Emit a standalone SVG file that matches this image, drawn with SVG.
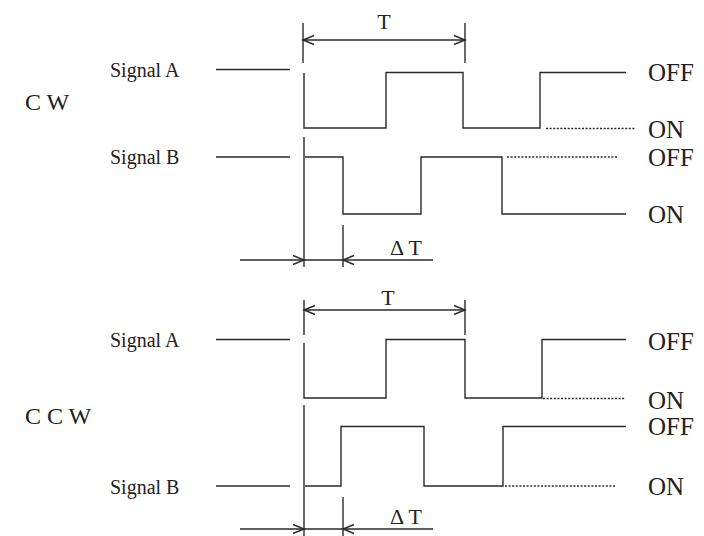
<svg xmlns="http://www.w3.org/2000/svg" width="704" height="536" viewBox="0 0 704 536">
<style>
.w{fill:none;stroke:#2a2a2a;stroke-width:1.4;stroke-linejoin:miter}
.d{fill:none;stroke:#2a2a2a;stroke-width:1.6;stroke-dasharray:2 1.6}
.t{font-family:"Liberation Serif","Times New Roman",serif;fill:#222}
.sig{font-size:20px}
.st{font-size:25px}
.big{font-size:24px}
.dim{font-size:22px}
</style>
<rect width="704" height="536" fill="#fff"/>
<g id="cw">
  <text class="t big" x="25" y="110">C W</text>
  <g id="cw-a">
    <text class="t sig" x="110" y="77">Signal A</text>
    <line class="w" x1="216" y1="69.5" x2="290" y2="69.5"/>
    <polyline class="w" points="304,73 304,128 386,128 386,72.5 463,72.5 463,128 540,128 540,72.5 626,72.5"/>
    <line class="d" x1="546" y1="128.5" x2="635" y2="128.5"/>
    <text class="t st" x="648" y="81">OFF</text>
    <text class="t st" x="648" y="138">ON</text>
  </g>
  <g id="cw-b">
    <text class="t sig" x="110" y="164">Signal B</text>
    <line class="w" x1="216" y1="157" x2="290" y2="157"/>
    <polyline class="w" points="305,157 343,157 343,214 421,214 421,157 502,157 502,214 626,214"/>
    <line class="d" x1="507" y1="157" x2="617" y2="157"/>
    <text class="t st" x="648" y="166">OFF</text>
    <text class="t st" x="648" y="223">ON</text>
  </g>
</g>
<g id="ccw">
  <text class="t big" x="25" y="424">C C W</text>
  <g id="ccw-a">
    <text class="t sig" x="110" y="347">Signal A</text>
    <line class="w" x1="216" y1="339.5" x2="290" y2="339.5"/>
    <polyline class="w" points="304,343 304,398 386,398 386,339.5 465,339.5 465,398 542,398 542,339.5 626,339.5"/>
    <line class="d" x1="543" y1="398.5" x2="625" y2="398.5"/>
    <text class="t st" x="648" y="350">OFF</text>
    <text class="t st" x="648" y="409">ON</text>
  </g>
  <g id="ccw-b">
    <text class="t sig" x="110" y="494">Signal B</text>
    <line class="w" x1="216" y1="486" x2="290" y2="486"/>
    <polyline class="w" points="305,486 341,486 341,426.5 424,426.5 424,486 503,486 503,426.5 626,426.5"/>
    <line class="d" x1="505" y1="486" x2="615" y2="486"/>
    <text class="t st" x="648" y="435">OFF</text>
    <text class="t st" x="648" y="495">ON</text>
  </g>
</g>
<g id="dimensions">
  <line class="w" x1="303" y1="23" x2="303" y2="63"/>
  <line class="w" x1="465" y1="23" x2="465" y2="63"/>
  <line class="w" x1="303" y1="40" x2="465" y2="40"/>
  <polyline class="w" points="314,35.5 303,40 314,44.5"/>
  <polyline class="w" points="454,35.5 465,40 454,44.5"/>
  <text class="t dim" x="384" y="29" text-anchor="middle">T</text>
  <line class="w" x1="304" y1="137" x2="304" y2="267"/>
  <line class="w" x1="343" y1="225" x2="343" y2="267"/>
  <line class="w" x1="240" y1="260" x2="433" y2="260"/>
  <polyline class="w" points="293,255.5 304,260 293,264.5"/>
  <polyline class="w" points="354,255.5 343,260 354,264.5"/>
  <text class="t dim" x="390" y="255">Δ T</text>
  <line class="w" x1="304" y1="300" x2="304" y2="335"/>
  <line class="w" x1="465" y1="300" x2="465" y2="335"/>
  <line class="w" x1="304" y1="310" x2="465" y2="310"/>
  <polyline class="w" points="315,305.5 304,310 315,314.5"/>
  <polyline class="w" points="454,305.5 465,310 454,314.5"/>
  <text class="t dim" x="388" y="305" text-anchor="middle">T</text>
  <line class="w" x1="304" y1="405" x2="304" y2="536"/>
  <line class="w" x1="343" y1="497" x2="343" y2="536"/>
  <line class="w" x1="240" y1="529" x2="433" y2="529"/>
  <polyline class="w" points="293,524.5 304,529 293,533.5"/>
  <polyline class="w" points="354,524.5 343,529 354,533.5"/>
  <text class="t dim" x="390" y="524">Δ T</text>
</g>
</svg>
